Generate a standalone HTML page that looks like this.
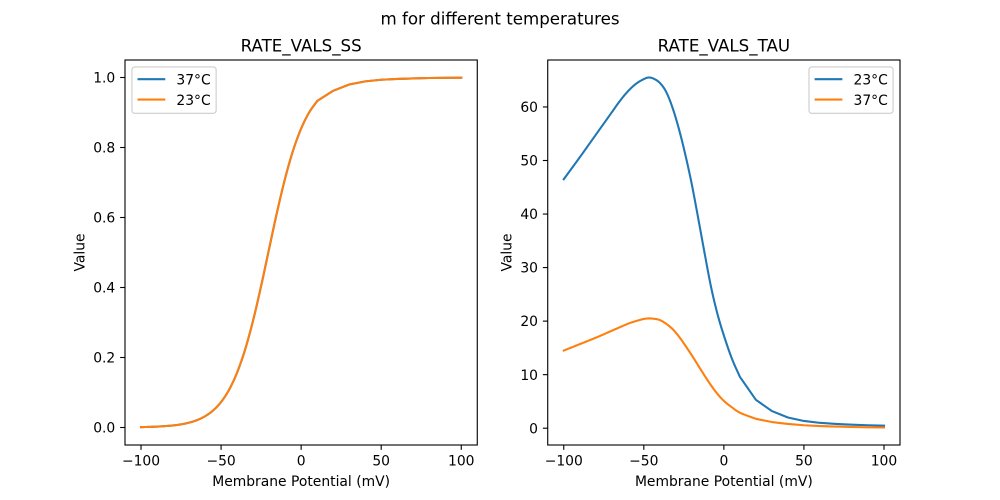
<!DOCTYPE html>
<html>
<head>
<meta charset="utf-8">
<style>
html,body{margin:0;padding:0;background:#fff;}
svg{display:block;}
text{font-family:"DejaVu Sans","Liberation Sans",sans-serif;fill:#000;}
.tk{font-size:13.89px;}
.tt{font-size:16.67px;}
</style>
</head>
<body>
<svg width="1000" height="500" viewBox="0 0 1000 500" xmlns="http://www.w3.org/2000/svg">
<rect x="0" y="0" width="1000" height="500" fill="#fff"/>

<text class="tt" x="500" y="24.5" text-anchor="middle">m for different temperatures</text>

<!-- ========== LEFT AXES ========== -->
<text class="tt" x="301.14" y="51.67" text-anchor="middle">RATE_VALS_SS</text>

<g fill="none" stroke-width="2.08" stroke-linejoin="round" stroke-linecap="square">
<polyline id="lb" stroke="#1f77b4" points="141.02,427.13 157.03,426.62 173.04,425.44 181.05,424.34 189.06,422.66 197.06,420.11 205.07,416.25 213.07,410.49 221.08,401.99 229.09,389.73 237.09,372.56 245.10,349.56 253.10,320.40 261.11,286.03 269.12,248.72 277.12,211.80 285.13,178.30 293.13,150.37 301.14,128.57 309.15,112.46 317.15,101.06 333.16,90.8 349.18,84.5 365.19,81.35 381.20,79.77 397.21,78.9 413.22,78.4 429.24,78.0 445.25,77.85 461.26,77.7"/>
<polyline id="lo" stroke="#ff7f0e" points="141.02,427.13 157.03,426.62 173.04,425.44 181.05,424.34 189.06,422.66 197.06,420.11 205.07,416.25 213.07,410.49 221.08,401.99 229.09,389.73 237.09,372.56 245.10,349.56 253.10,320.40 261.11,286.03 269.12,248.72 277.12,211.80 285.13,178.30 293.13,150.37 301.14,128.57 309.15,112.46 317.15,101.06 333.16,90.8 349.18,84.5 365.19,81.35 381.20,79.77 397.21,78.9 413.22,78.4 429.24,78.0 445.25,77.85 461.26,77.7"/>
</g>

<rect x="125" y="60" width="352.27" height="385" fill="none" stroke="#000" stroke-width="1.11"/>

<g stroke="#000" stroke-width="1.11">
<line x1="141.02" y1="445" x2="141.02" y2="449.86"/>
<line x1="221.08" y1="445" x2="221.08" y2="449.86"/>
<line x1="301.14" y1="445" x2="301.14" y2="449.86"/>
<line x1="381.20" y1="445" x2="381.20" y2="449.86"/>
<line x1="461.26" y1="445" x2="461.26" y2="449.86"/>
<line x1="125" y1="427.5" x2="120.14" y2="427.5"/>
<line x1="125" y1="357.5" x2="120.14" y2="357.5"/>
<line x1="125" y1="287.5" x2="120.14" y2="287.5"/>
<line x1="125" y1="217.5" x2="120.14" y2="217.5"/>
<line x1="125" y1="147.5" x2="120.14" y2="147.5"/>
<line x1="125" y1="77.5" x2="120.14" y2="77.5"/>
</g>
<g text-anchor="middle">
<text class="tk" x="141.02" y="465.6">−100</text>
<text class="tk" x="221.08" y="465.6">−50</text>
<text class="tk" x="301.14" y="465.6">0</text>
<text class="tk" x="381.20" y="465.6">50</text>
<text class="tk" x="461.26" y="465.6">100</text>
</g>
<g text-anchor="end">
<text class="tk" x="115.28" y="432.6">0.0</text>
<text class="tk" x="115.28" y="362.6">0.2</text>
<text class="tk" x="115.28" y="292.6">0.4</text>
<text class="tk" x="115.28" y="222.6">0.6</text>
<text class="tk" x="115.28" y="152.6">0.8</text>
<text class="tk" x="115.28" y="82.6">1.0</text>
</g>
<text class="tk" x="301.14" y="486" text-anchor="middle">Membrane Potential (mV)</text>
<text class="tk" x="0" y="0" text-anchor="middle" transform="translate(84.6,252.5) rotate(-90)">Value</text>

<rect x="131.94" y="66.94" width="84.2" height="46.4" rx="2.78" ry="2.78" fill="#fff" fill-opacity="0.8" stroke="#cccccc" stroke-width="1.11"/>
<line x1="137.5" y1="79.2" x2="165.3" y2="79.2" stroke="#1f77b4" stroke-width="2.08"/>
<line x1="137.5" y1="99.6" x2="165.3" y2="99.6" stroke="#ff7f0e" stroke-width="2.08"/>
<text class="tk" x="176.4" y="84.4">37°C</text>
<text class="tk" x="176.4" y="104.8">23°C</text>

<!-- ========== RIGHT AXES ========== -->
<text class="tt" x="723.87" y="51.67" text-anchor="middle">RATE_VALS_TAU</text>

<g fill="none" stroke-width="2.08" stroke-linejoin="round" stroke-linecap="square">
<polyline id="rb" stroke="#1f77b4" points="563.75,179.24 579.76,157.29 595.77,134.80 611.79,112.31 619.79,101.07 627.80,91.43 635.80,83.94 643.81,79.12 648.61,77.51 653.42,78.58 659.82,82.87 666.23,91.97 672.63,108.03 679.04,129.45 685.44,155.15 691.85,184.59 698.25,218.5 704.66,253.5 711.06,287.0 717.47,314.0 723.87,335.5 731.88,358.60 739.88,376.80 755.89,399.82 771.91,411.07 787.92,417.49 803.93,420.97 819.94,422.85 835.95,423.92 851.97,424.72 867.98,425.26 883.99,425.68"/>
<polyline id="ro" stroke="#ff7f0e" points="563.75,350.57 579.76,344.14 595.77,337.72 611.79,330.76 627.80,323.80 635.80,321.12 643.81,318.98 648.61,318.44 653.42,318.71 659.82,320.05 666.23,323.80 672.63,329.15 679.04,336.65 685.44,345.75 691.85,355.39 698.25,365.56 704.66,375.73 711.06,385.37 717.47,393.93 723.87,400.89 731.88,407.32 739.88,412.67 755.89,418.83 771.91,422.04 787.92,423.92 803.93,425.26 819.94,426.06 835.95,426.59 851.97,427.02 867.98,427.29 883.99,427.50"/>
</g>

<rect x="547.73" y="60" width="352.27" height="385" fill="none" stroke="#000" stroke-width="1.11"/>

<g stroke="#000" stroke-width="1.11">
<line x1="563.75" y1="445" x2="563.75" y2="449.86"/>
<line x1="643.81" y1="445" x2="643.81" y2="449.86"/>
<line x1="723.87" y1="445" x2="723.87" y2="449.86"/>
<line x1="803.93" y1="445" x2="803.93" y2="449.86"/>
<line x1="883.99" y1="445" x2="883.99" y2="449.86"/>
<line x1="547.73" y1="428.2" x2="542.87" y2="428.2"/>
<line x1="547.73" y1="374.66" x2="542.87" y2="374.66"/>
<line x1="547.73" y1="321.12" x2="542.87" y2="321.12"/>
<line x1="547.73" y1="267.58" x2="542.87" y2="267.58"/>
<line x1="547.73" y1="214.04" x2="542.87" y2="214.04"/>
<line x1="547.73" y1="160.5" x2="542.87" y2="160.5"/>
<line x1="547.73" y1="106.96" x2="542.87" y2="106.96"/>
</g>
<g text-anchor="middle">
<text class="tk" x="563.75" y="465.6">−100</text>
<text class="tk" x="643.81" y="465.6">−50</text>
<text class="tk" x="723.87" y="465.6">0</text>
<text class="tk" x="803.93" y="465.6">50</text>
<text class="tk" x="883.99" y="465.6">100</text>
</g>
<g text-anchor="end">
<text class="tk" x="538.01" y="433.3">0</text>
<text class="tk" x="538.01" y="379.76">10</text>
<text class="tk" x="538.01" y="326.22">20</text>
<text class="tk" x="538.01" y="272.68">30</text>
<text class="tk" x="538.01" y="219.14">40</text>
<text class="tk" x="538.01" y="165.6">50</text>
<text class="tk" x="538.01" y="112.06">60</text>
</g>
<text class="tk" x="723.87" y="486" text-anchor="middle">Membrane Potential (mV)</text>
<text class="tk" x="0" y="0" text-anchor="middle" transform="translate(511.3,252.5) rotate(-90)">Value</text>

<rect x="809.0" y="66.94" width="84.06" height="46.4" rx="2.78" ry="2.78" fill="#fff" fill-opacity="0.8" stroke="#cccccc" stroke-width="1.11"/>
<line x1="814.6" y1="79.2" x2="842.4" y2="79.2" stroke="#1f77b4" stroke-width="2.08"/>
<line x1="814.6" y1="99.6" x2="842.4" y2="99.6" stroke="#ff7f0e" stroke-width="2.08"/>
<text class="tk" x="853.5" y="84.4">23°C</text>
<text class="tk" x="853.5" y="104.8">37°C</text>
</svg>
<script>
(function(){
  function smooth(id, smoothEnd){
    var el=document.getElementById(id); if(!el) return;
    var pts=el.getAttribute('points').trim().split(/\s+/).map(function(s){var a=s.split(',');return [parseFloat(a[0]),parseFloat(a[1])];});
    var n=pts.length, out=[pts[0]], N=12;
    function tan(i, lim){
      if(i<=0) return (pts[1][1]-pts[0][1])/(pts[1][0]-pts[0][0]);
      var j=Math.min(i+1,n-1);
      if(i>=lim) return (pts[i][1]-pts[i-1][1])/(pts[i][0]-pts[i-1][0]);
      return (pts[j][1]-pts[i-1][1])/(pts[j][0]-pts[i-1][0]);
    }
    for(var i=0;i<n-1;i++){
      if(i<smoothEnd){
        var x0=pts[i][0],y0=pts[i][1],x1=pts[i+1][0],y1=pts[i+1][1],h=x1-x0;
        var m0=tan(i,smoothEnd),m1=tan(i+1,smoothEnd);
        for(var k=1;k<=N;k++){
          var t=k/N,t2=t*t,t3=t2*t;
          var h00=2*t3-3*t2+1,h10=t3-2*t2+t,h01=-2*t3+3*t2,h11=t3-t2;
          out.push([x0+h*t, h00*y0+h10*h*m0+h01*y1+h11*h*m1]);
        }
      } else out.push(pts[i+1]);
    }
    el.setAttribute('points',out.map(function(p){return p[0].toFixed(2)+','+p[1].toFixed(2);}).join(' '));
  }
  smooth('lb',20); smooth('lo',20); smooth('rb',22); smooth('ro',22);
})();
</script>
</body>
</html>
